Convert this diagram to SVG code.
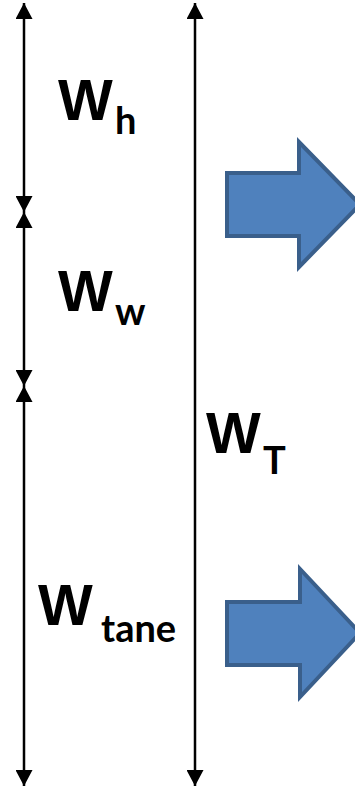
<svg xmlns="http://www.w3.org/2000/svg" width="355" height="790" viewBox="0 0 355 790">
  <style>
    .dim { stroke: #000; stroke-width: 2.5; fill: none; marker-start: url(#head); marker-end: url(#head); }
    .big { font-family: "Liberation Sans", Arial, sans-serif; font-weight: bold; font-size: 58px; fill: #000; }
    .sub { font-family: Lato, "Liberation Sans", sans-serif; font-weight: bold; font-size: 38px; fill: #000; }
    .block { fill: #4f81bd; stroke: #3a5f8b; stroke-width: 4; stroke-linejoin: miter; }
  </style>
  <defs>
    <marker id="head" markerUnits="userSpaceOnUse" markerWidth="17" markerHeight="17" refX="16" refY="8.5" orient="auto-start-reverse" viewBox="0 0 17 17">
      <path d="M0,0 L16,8.5 L0,17 Z" fill="#000"/>
    </marker>
  </defs>

  <rect width="355" height="790" fill="#fff"/>

  <!-- dimension lines -->
  <g id="connectors">
    <line class="dim" x1="24" y1="3" x2="24" y2="212"/>
    <line class="dim" x1="24" y1="212" x2="24" y2="386"/>
    <line class="dim" x1="24" y1="386" x2="24" y2="786"/>
    <line class="dim" x1="195" y1="3" x2="195" y2="786"/>
  </g>

  <g id="label-wh">
    <text class="big" x="58" y="120">W</text>
    <text class="sub" x="115" y="134">h</text>
  </g>
  <g id="label-ww">
    <text class="big" x="58" y="311">W</text>
    <text class="sub" x="115" y="325">w</text>
  </g>
  <g id="label-wt">
    <text class="big" x="206" y="453">W</text>
    <text class="sub" x="263" y="474">T</text>
  </g>
  <g id="label-wtane">
    <text class="big" x="38" y="625">W</text>
    <text class="sub" x="101" y="642">tane</text>
  </g>

  <g id="arrow-upper">
    <polygon class="block" points="227,173 299,173 299,142 360,204.5 299,267 299,236 227,236"/>
  </g>
  <g id="arrow-lower">
    <polygon class="block" points="227,602 300,602 300,569 360,633 300,697 300,665 227,665"/>
  </g>
</svg>
